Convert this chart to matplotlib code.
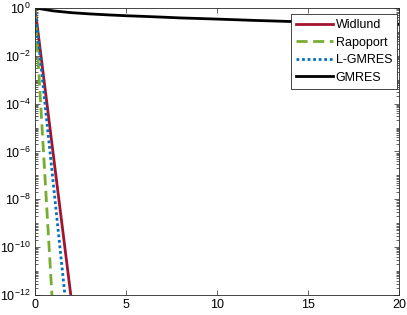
import numpy as np
import matplotlib
matplotlib.use("Agg")
import matplotlib.pyplot as plt
from matplotlib.ticker import LogLocator, NullFormatter

plt.rcParams['font.family'] = ['Liberation Sans', 'DejaVu Sans']
plt.rcParams['mathtext.fontset'] = 'custom'
plt.rcParams['mathtext.rm'] = 'Liberation Sans'
plt.rcParams['mathtext.it'] = 'Liberation Sans'

# Data (residual history vs iteration)
widlund_it = [0, 1, 2]
widlund_res = [1.0, 10**-6.1, 10**-12.2]
rapoport_it = [0, 1]
rapoport_res = [1.0, 10**-12.9]
lgmres_it = [0, 1, 2]
lgmres_res = [1.0, 10**-7.3, 10**-14.6]
gmres_it = list(range(21))
gmres_res = [1.0, 0.75, 0.63, 0.56, 0.51, 0.47, 0.44, 0.41, 0.38, 0.36,
             0.34, 0.32, 0.30, 0.285, 0.27, 0.26, 0.25, 0.24, 0.23, 0.22, 0.21]

xticks = [0, 5, 10, 15, 20]
yticks_exp = [-12, -10, -8, -6, -4, -2, 0]

fig = plt.figure(figsize=(4.07, 3.15), dpi=100)
ax = fig.add_axes([0.086, 0.0635, 0.894, 0.9115])

ax.semilogy(widlund_it, widlund_res, color='#A2142F', lw=2.0, label='Widlund')
ax.semilogy(rapoport_it, rapoport_res, color='#77AC30', lw=2.0, ls=(0, (4, 2)), label='Rapoport')
ax.semilogy(lgmres_it, lgmres_res, color='#0072BD', lw=2.0, ls=(0, (1, 1)), label='L-GMRES')
ax.semilogy(gmres_it, gmres_res, color='black', lw=2.0, label='GMRES')

ax.set_xlim(0, 20)
ax.set_ylim(1e-12, 1)
ax.set_xticks(xticks)
ax.set_yticks([10.0**e for e in yticks_exp])
ax.set_yticklabels([r'$10^{%d}$' % e for e in yticks_exp])
ax.yaxis.set_minor_locator(LogLocator(base=10, subs=np.arange(1, 10), numticks=100))
ax.yaxis.set_minor_formatter(NullFormatter())

gray = (0.15, 0.15, 0.15)
for s in ax.spines.values():
    s.set_color(gray)
    s.set_linewidth(0.6)
ax.tick_params(which='both', direction='in', top=True, right=True, colors=gray,
               labelcolor='black', labelsize=9, width=0.5)
ax.tick_params(which='major', length=3.5, pad=3)
ax.tick_params(which='minor', length=2)

leg = ax.legend(loc='upper right', bbox_to_anchor=(0.995, 0.979), fontsize=9,
                handlelength=3.0, handletextpad=0.2, borderpad=0.4, labelspacing=0.45,
                fancybox=False, framealpha=1, edgecolor=gray, borderaxespad=0)
leg.get_frame().set_linewidth(0.6)

fig.savefig('out.png', dpi=100)
